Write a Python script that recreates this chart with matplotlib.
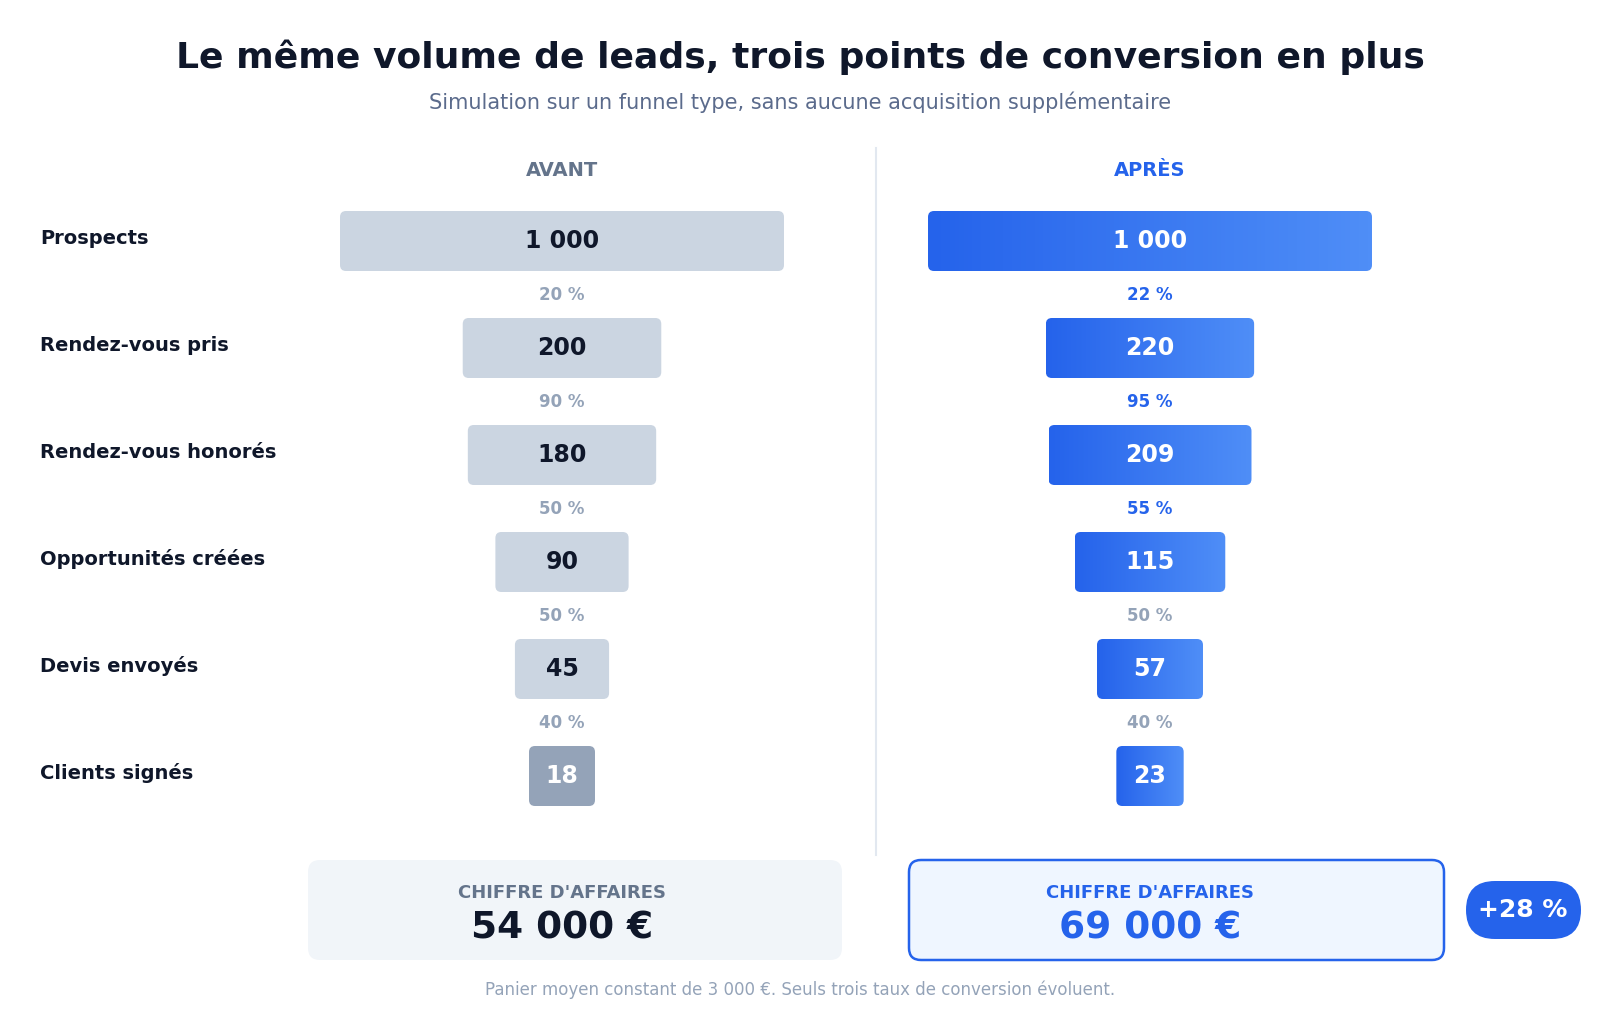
import numpy as np
import matplotlib.pyplot as plt
from matplotlib.patches import FancyBboxPatch
from matplotlib.colors import LinearSegmentedColormap

stages = ['Prospects', 'Rendez-vous pris', 'Rendez-vous honorés',
          'Opportunités créées', 'Devis envoyés', 'Clients signés']
avant = [1000, 200, 180, 90, 45, 18]
apres = [1000, 220, 209, 115, 57, 23]
rates_avant = ['20 %', '90 %', '50 %', '50 %', '40 %']
rates_apres = ['22 %', '95 %', '55 %', '50 %', '40 %']
changed = [True, True, True, False, False]
ca_avant = '54 000 €'
ca_apres = '69 000 €'
uplift = '+28 %'

def fmt(v):
    return f'{v:,}'.replace(',', ' ')

fig = plt.figure(figsize=(16, 10.13), dpi=100)
ax = fig.add_axes([0, 0, 1, 1])
ax.set_xlim(0, 1600)
ax.set_ylim(1013, 0)
ax.axis('off')

dark = '#0f172a'
blue = '#2563eb'
grey = '#94a3b8'
cmap = LinearSegmentedColormap.from_list('b', ['#2563eb', '#4f8ef7'])

ax.text(800, 57, 'Le même volume de leads, trois points de conversion en plus',
        ha='center', va='center', fontsize=26, fontweight='bold', color=dark)
ax.text(800, 102, 'Simulation sur un funnel type, sans aucune acquisition supplémentaire',
        ha='center', va='center', fontsize=15, color='#5b6b8c')

cx_l, cx_r = 562, 1150
ax.text(cx_l, 170, 'AVANT', ha='center', va='center', fontsize=14,
        fontweight='bold', color='#64748b')
ax.text(cx_r, 170, 'APRÈS', ha='center', va='center', fontsize=14,
        fontweight='bold', color=blue)
ax.plot([876, 876], [148, 855], color='#e2e8f0', lw=1.5)

row_y = [241, 348, 455, 562, 669, 776]
bh = 60
scale = 14.04

def width(v):
    return max(scale * np.sqrt(v), 66)

for i, name in enumerate(stages):
    y = row_y[i]
    ax.text(40, y - 3, name, ha='left', va='center', fontsize=14,
            fontweight='bold', color=dark)
    # avant
    w = width(avant[i])
    last = i == len(stages) - 1
    ax.add_patch(FancyBboxPatch((cx_l - w / 2, y - bh / 2), w, bh,
                                boxstyle='round,pad=0,rounding_size=6',
                                fc=grey if last else '#cbd5e1', ec='none'))
    ax.text(cx_l, y, fmt(avant[i]), ha='center', va='center', fontsize=17,
            fontweight='bold', color='white' if last else dark)
    # apres with gradient
    w = width(apres[i])
    p = FancyBboxPatch((cx_r - w / 2, y - bh / 2), w, bh,
                       boxstyle='round,pad=0,rounding_size=6', fc='none', ec='none')
    ax.add_patch(p)
    im = ax.imshow(np.linspace(0, 1, 100).reshape(1, -1), cmap=cmap, aspect='auto',
                   extent=(cx_r - w / 2, cx_r + w / 2, y + bh / 2, y - bh / 2), zorder=1)
    im.set_clip_path(p)
    ax.text(cx_r, y, fmt(apres[i]), ha='center', va='center', fontsize=17,
            fontweight='bold', color='white', zorder=3)

for i in range(len(rates_avant)):
    y = (row_y[i] + row_y[i + 1]) / 2
    ax.text(cx_l, y, rates_avant[i], ha='center', va='center', fontsize=12,
            fontweight='bold', color=grey)
    ax.text(cx_r, y, rates_apres[i], ha='center', va='center', fontsize=12,
            fontweight='bold', color=blue if changed[i] else grey)

ax.add_patch(FancyBboxPatch((308, 860), 534, 100, boxstyle='round,pad=0,rounding_size=12',
                            fc='#f1f5f9', ec='none'))
ax.add_patch(FancyBboxPatch((909, 860), 535, 100, boxstyle='round,pad=0,rounding_size=12',
                            fc='#eff6ff', ec=blue, lw=1.8))
ax.text(cx_l, 893, "CHIFFRE D'AFFAIRES", ha='center', va='center', fontsize=13,
        fontweight='bold', color='#64748b')
ax.text(cx_l, 928, ca_avant, ha='center', va='center', fontsize=27,
        fontweight='bold', color=dark)
ax.text(cx_r, 893, "CHIFFRE D'AFFAIRES", ha='center', va='center', fontsize=13,
        fontweight='bold', color=blue)
ax.text(cx_r, 928, ca_apres, ha='center', va='center', fontsize=27,
        fontweight='bold', color=blue)

ax.add_patch(FancyBboxPatch((1466, 881), 115, 58, boxstyle='round,pad=0,rounding_size=29',
                            fc=blue, ec='none'))
ax.text(1523, 910, uplift, ha='center', va='center', fontsize=18,
        fontweight='bold', color='white')

ax.text(800, 990, 'Panier moyen constant de 3 000 €. Seuls trois taux de conversion évoluent.',
        ha='center', va='center', fontsize=12, color=grey)

fig.savefig('out.png', dpi=100)
